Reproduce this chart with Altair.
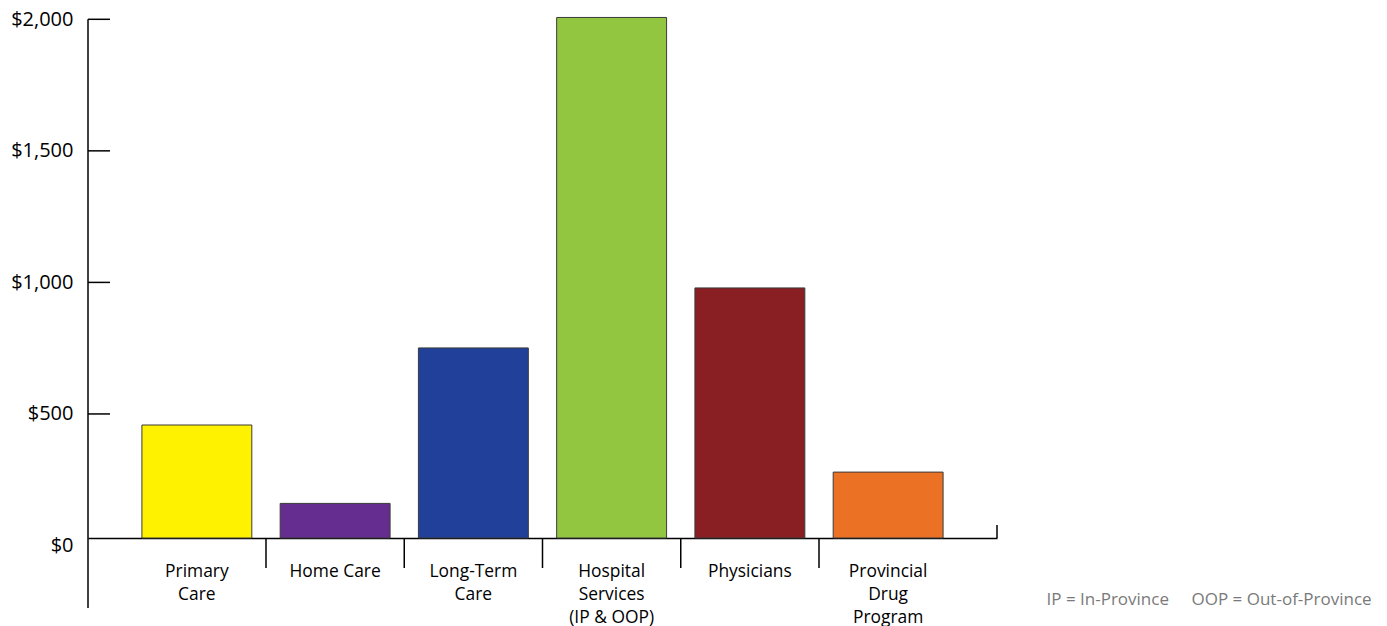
import altair as alt
import pandas as pd

# ---- data ----
categories = [
    "Primary|Care",
    "Home Care",
    "Long-Term|Care",
    "Hospital|Services|(IP & OOP)",
    "Physicians",
    "Provincial|Drug|Program",
]
spending = [458, 160, 751, 2007, 979, 279]
y_tick_values = [0, 500, 1000, 1500, 2000]
note_ip = "IP = In-Province"
note_oop = "OOP = Out-of-Province"

# ---- styling ----
bar_colors = ["#FFF200", "#662D91", "#21409A", "#92C640", "#891F22", "#EB7125"]
FONT = "Open Sans"
W = 909
H = 526.2
PAD_INNER = 0.205
PAD_OUTER = 0.39
AXIS_SHIFT = 7.5          # x-axis line sits slightly above the $0 position
BASE = H - AXIS_SHIFT
STEP = W / (len(categories) - PAD_INNER + 2 * PAD_OUTER)
HALF_GAP = STEP * PAD_INNER / 2

df = pd.DataFrame({"cat": categories, "value": spending})
tick_df = pd.DataFrame({"v": y_tick_values[1:]})
sep_df = pd.DataFrame({"cat": categories[1:]})
one = pd.DataFrame({"k": [0]})

xscale = alt.Scale(domain=categories, paddingInner=PAD_INNER, paddingOuter=PAD_OUTER)
yscale = alt.Scale(domain=[0, 2000], nice=False, zero=True)

x_axis = alt.Axis(
    title=None,
    labelExpr="split(datum.label, '|')",
    labelAngle=0,
    ticks=False,
    domain=True,
    domainColor="black",
    domainWidth=1.5,
    labelPadding=24.5,
    labelFontSize=17.4,
    labelLineHeight=23,
    labelColor="black",
    labelFont=FONT,
    labelOverlap=False,
    offset=-AXIS_SHIFT,
)
y_axis = alt.Axis(
    title=None,
    values=y_tick_values,
    format="$,.0f",
    domain=False,
    ticks=False,
    grid=False,
    labelFontSize=20,
    labelColor="black",
    labelFont=FONT,
    labelPadding=15,
)

bars = alt.Chart(df).mark_bar(stroke="#3a3a3a", strokeWidth=1).encode(
    x=alt.X("cat:N", scale=xscale, axis=x_axis),
    y=alt.Y("value:Q", scale=yscale, axis=y_axis, stack=None),
    y2=alt.value(BASE),
    color=alt.Color("cat:N", scale=alt.Scale(domain=categories, range=bar_colors), legend=None),
)

yticks = alt.Chart(tick_df).mark_rule(color="black", strokeWidth=1.5).encode(
    y=alt.Y("v:Q", scale=yscale, axis=y_axis),
    x=alt.value(0),
    x2=alt.value(22),
)

separators = alt.Chart(sep_df).mark_rule(color="black", strokeWidth=1.5).encode(
    x=alt.X("cat:N", scale=xscale, bandPosition=0, axis=x_axis),
    xOffset=alt.value(-HALF_GAP),
    y=alt.value(BASE),
    y2=alt.value(BASE + 30),
)

yline = alt.Chart(one).mark_rule(color="black", strokeWidth=1.5).encode(
    x=alt.value(0), y=alt.value(0), y2=alt.value(H + 62.5)
)

endtick = alt.Chart(one).mark_rule(color="black", strokeWidth=1.5).encode(
    x=alt.value(W), y=alt.value(BASE - 13), y2=alt.value(BASE)
)

note1 = alt.Chart(one).mark_text(
    align="left", baseline="alphabetic", fontSize=17, color="#7a7a7a", font=FONT
).encode(x=alt.value(958.5), y=alt.value(585.5), text=alt.value(note_ip))

note2 = alt.Chart(one).mark_text(
    align="left", baseline="alphabetic", fontSize=17, color="#7a7a7a", font=FONT
).encode(x=alt.value(1103.5), y=alt.value(585.5), text=alt.value(note_oop))

chart = (
    alt.layer(bars, yticks, separators, yline, endtick, note1, note2)
    .properties(
        width=W,
        height=H,
        autosize=alt.AutoSizeParams(type="none"),
        padding={"left": 88, "top": 19.3, "right": 1387 - 88 - W, "bottom": 626 - 19.3 - H},
    )
    .configure_view(stroke=None)
    .configure_axis(grid=False)
)

chart.save("out.html", embed_options={"renderer": "svg", "actions": False})
